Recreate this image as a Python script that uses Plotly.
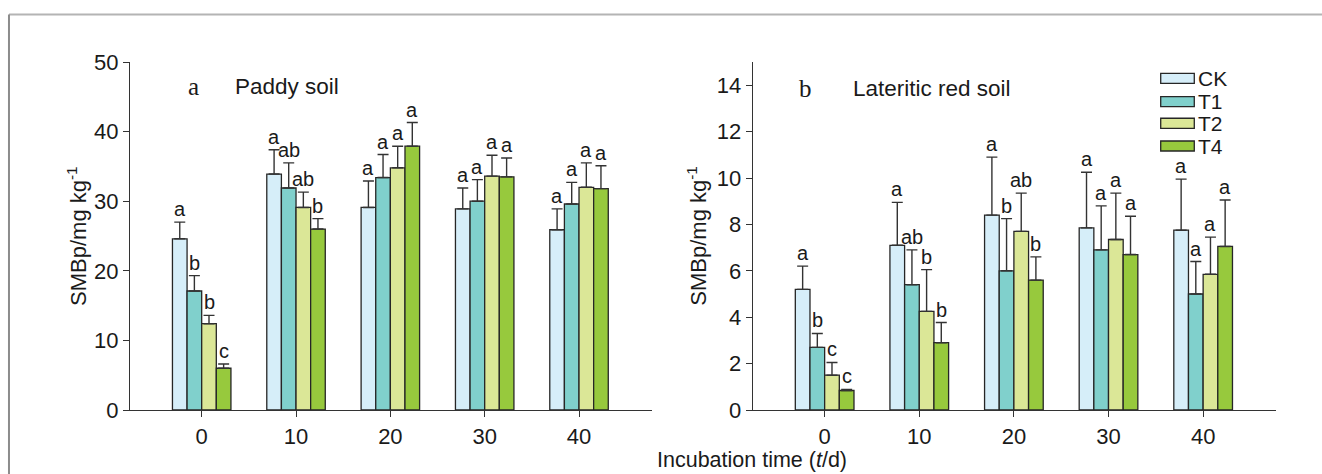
import plotly.graph_objects as go

# ---------------- data ----------------
times = [0, 10, 20, 30, 40]
treatments = ["CK", "T1", "T2", "T4"]
colors = ["#d6eef9", "#80d0cc", "#dbe797", "#97c93d"]

# Panel a: Paddy soil
paddy_CK = [24.6, 33.9, 29.1, 28.9, 25.9]
paddy_T1 = [17.1, 31.9, 33.4, 30.0, 29.6]
paddy_T2 = [12.4, 29.1, 34.8, 33.6, 32.0]
paddy_T4 = [6.0, 26.0, 37.9, 33.5, 31.8]
paddy_err_CK = [2.4, 3.5, 3.8, 3.0, 3.0]
paddy_err_T1 = [2.2, 3.6, 3.3, 3.1, 3.1]
paddy_err_T2 = [1.2, 2.2, 3.1, 3.0, 3.5]
paddy_err_T4 = [0.6, 1.5, 3.4, 2.7, 3.3]
paddy_sig_CK = ["a", "a", "a", "a", "a"]
paddy_sig_T1 = ["b", "ab", "a", "a", "a"]
paddy_sig_T2 = ["b", "ab", "a", "a", "a"]
paddy_sig_T4 = ["c", "b", "a", "a", "a"]

# Panel b: Lateritic red soil
red_CK = [5.2, 7.1, 8.4, 7.85, 7.75]
red_T1 = [2.7, 5.4, 6.0, 6.9, 5.0]
red_T2 = [1.5, 4.25, 7.7, 7.35, 5.85]
red_T4 = [0.84, 2.9, 5.6, 6.7, 7.05]
red_err_CK = [1.0, 1.85, 2.5, 2.4, 2.2]
red_err_T1 = [0.6, 1.5, 2.25, 1.9, 1.4]
red_err_T2 = [0.55, 1.8, 1.65, 2.0, 1.6]
red_err_T4 = [0.05, 0.87, 1.0, 1.65, 2.0]
red_sig_CK = ["a", "a", "a", "a", "a"]
red_sig_T1 = ["b", "ab", "b", "a", "a"]
red_sig_T2 = ["c", "b", "ab", "a", "a"]
red_sig_T4 = ["c", "b", "b", "a", "a"]

panel_a = dict(means=[paddy_CK, paddy_T1, paddy_T2, paddy_T4],
               errs=[paddy_err_CK, paddy_err_T1, paddy_err_T2, paddy_err_T4],
               sigs=[paddy_sig_CK, paddy_sig_T1, paddy_sig_T2, paddy_sig_T4])
panel_b = dict(means=[red_CK, red_T1, red_T2, red_T4],
               errs=[red_err_CK, red_err_T1, red_err_T2, red_err_T4],
               sigs=[red_sig_CK, red_sig_T1, red_sig_T2, red_sig_T4])

SANS = "Liberation Sans, Arial, sans-serif"
SERIF = "Liberation Serif, Times New Roman, serif"
TXT = "#1a1a1a"
BARGAP = 0.38
SPACING = 10

fig = go.Figure()
annotations = []
bw = SPACING * (1 - BARGAP) / len(treatments)

for panel, xa, ya in [(panel_a, "x", "y"), (panel_b, "x2", "y2")]:
    for i, name in enumerate(treatments):
        fig.add_trace(go.Bar(
            x=times, y=panel["means"][i], name=name, xaxis=xa, yaxis=ya,
            marker=dict(color=colors[i], line=dict(color="#262626", width=1.3)),
            error_y=dict(type="data", array=panel["errs"][i], symmetric=False,
                         arrayminus=[0] * len(times), color="#333333",
                         thickness=1.4, width=5.5),
            showlegend=False,
        ))
        off = (i - (len(treatments) - 1) / 2) * bw
        for t, m, e, s in zip(times, panel["means"][i], panel["errs"][i], panel["sigs"][i]):
            annotations.append(dict(
                x=t + off, y=m + e, xref=xa, yref=ya, text=s, showarrow=False,
                xanchor="center", yanchor="bottom", yshift=1, borderpad=0,
                font=dict(family=SANS, size=20, color=TXT)))

axis_common = dict(showgrid=False, zeroline=False, showline=True,
                   linecolor="#333333", linewidth=1.3, ticks="outside",
                   ticklen=6, tickwidth=1.3, tickcolor="#333333",
                   tickfont=dict(family=SANS, size=22, color=TXT))

fig.update_layout(
    width=1322, height=474,
    margin=dict(l=130, r=46, t=62, b=64),
    paper_bgcolor="white", plot_bgcolor="white",
    barmode="group", bargap=BARGAP, bargroupgap=0,
    showlegend=False,
    xaxis=dict(domain=[0, 0.4552], range=[-7.6, 47.7], tickvals=times,
               anchor="y", **axis_common),
    yaxis=dict(range=[0, 50], tickvals=[0, 10, 20, 30, 40, 50],
               anchor="x", **axis_common),
    xaxis2=dict(domain=[0.5434, 1.0], range=[-7.6, 47.7], tickvals=times,
                anchor="y2", **axis_common),
    yaxis2=dict(range=[0, 15], tickvals=[0, 2, 4, 6, 8, 10, 12, 14],
                anchor="x2", **axis_common),
)

# panel labels
annotations += [
    dict(x=0.1208, y=0.929, xref="x domain", yref="y domain", text="a", showarrow=False,
         xanchor="center", yanchor="middle", font=dict(family=SERIF, size=25, color=TXT)),
    dict(x=0.1974, y=0.929, xref="x domain", yref="y domain", text="Paddy soil", showarrow=False,
         xanchor="left", yanchor="middle", font=dict(family=SANS, size=22.5, color=TXT)),
    dict(x=0.0999, y=0.9244, xref="x2 domain", yref="y2 domain", text="b", showarrow=False,
         xanchor="center", yanchor="middle", font=dict(family=SERIF, size=25, color=TXT)),
    dict(x=0.1878, y=0.9244, xref="x2 domain", yref="y2 domain", text="Lateritic red soil",
         showarrow=False, xanchor="left", yanchor="middle",
         font=dict(family=SANS, size=22.5, color=TXT)),
]

# axis titles
ytitle = "SMBp/mg kg<sup>-1</sup>"
annotations += [
    dict(x=-0.0463, y=0.5, xref="paper", yref="paper", text=ytitle, textangle=-90,
         showarrow=False, xanchor="center", yanchor="middle",
         font=dict(family=SANS, size=22, color=TXT)),
    dict(x=0.4945, y=0.5, xref="paper", yref="paper", text=ytitle, textangle=-90,
         showarrow=False, xanchor="center", yanchor="middle",
         font=dict(family=SANS, size=22, color=TXT)),
    dict(x=0.5428, y=-0.1437, xref="paper", yref="paper",
         text="Incubation time (<i>t</i>/d)", showarrow=False, borderpad=0,
         xanchor="center", yanchor="middle", font=dict(family=SANS, size=21.5, color=TXT)),
]

# custom legend (wide rectangles)
shapes = []
row_y = [0.9532, 0.8859, 0.8239, 0.7586]
h = 0.0144
for name, col, yc in zip(treatments, colors, row_y):
    shapes.append(dict(type="rect", xref="paper", yref="paper",
                       x0=0.8994, x1=0.9287, y0=yc - h, y1=yc + h,
                       fillcolor=col, line=dict(color="#262626", width=1.3)))
    annotations.append(dict(x=0.9315, y=yc, xref="paper", yref="paper", text=name,
                            showarrow=False, xanchor="left", yanchor="middle", borderpad=0,
                            font=dict(family=SANS, size=21, color=TXT)))

# outer frame lines
shapes.append(dict(type="line", xref="paper", yref="paper", x0=-0.1056, x1=1.05,
                   y0=1.1365, y1=1.1365, line=dict(color="#b4b4b4", width=2)))
shapes.append(dict(type="line", xref="paper", yref="paper", x0=-0.1056, x1=-0.1056,
                   y0=1.1365, y1=-0.2, line=dict(color="#8c8c8c", width=2)))

fig.update_layout(annotations=annotations, shapes=shapes)
fig.write_html("out.html")
